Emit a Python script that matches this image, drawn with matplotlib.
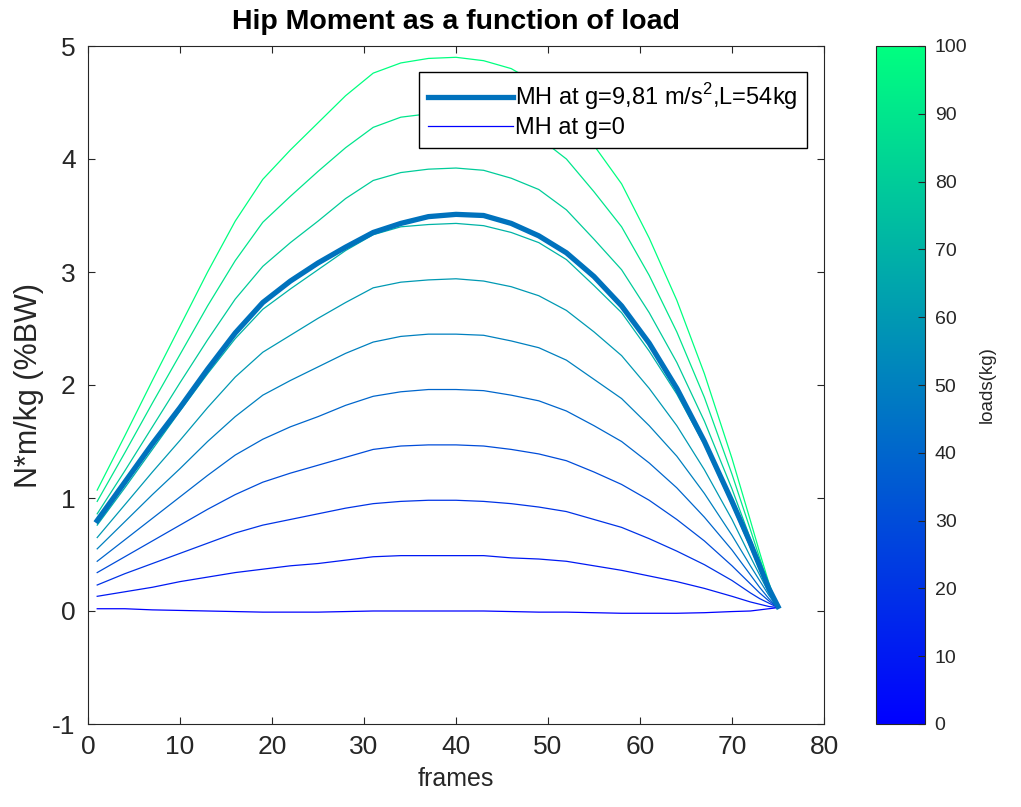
import numpy as np
import matplotlib
matplotlib.use("Agg")
import matplotlib.pyplot as plt
from matplotlib import cm, colors

plt.rcParams['font.family'] = ['Liberation Sans', 'DejaVu Sans']
plt.rcParams['mathtext.fontset'] = 'custom'
plt.rcParams['mathtext.rm'] = 'Liberation Sans'
plt.rcParams['axes.unicode_minus'] = False

# frame numbers where the curves were sampled
frames = [1, 4, 7, 10, 13, 16, 19, 22, 25, 28, 31, 34, 37, 40, 43, 46, 49, 52,
          55, 58, 61, 64, 67, 70, 72, 73, 74, 75]

# hip moment for each load (kg), N*m/kg
loads = [0, 10, 20, 30, 40, 50, 60, 70, 80, 90, 100]
mh_0 = [0.02, 0.02, 0.01, 0.005, 0.0, -0.005, -0.01, -0.01, -0.01, -0.005, 0.0, 0.0, 0.0, 0.0,
        0.0, -0.005, -0.01, -0.01, -0.015, -0.02, -0.02, -0.02, -0.015, -0.005, 0.0, 0.01, 0.02, 0.03]
mh_10 = [0.13, 0.17, 0.21, 0.26, 0.30, 0.34, 0.37, 0.40, 0.42, 0.45, 0.48, 0.49, 0.49, 0.49,
         0.49, 0.47, 0.46, 0.44, 0.40, 0.36, 0.31, 0.26, 0.20, 0.13, 0.08, 0.06, 0.04, 0.03]
mh_20 = [0.23, 0.33, 0.42, 0.51, 0.60, 0.69, 0.76, 0.81, 0.86, 0.91, 0.95, 0.97, 0.98, 0.98,
         0.97, 0.95, 0.92, 0.88, 0.81, 0.74, 0.64, 0.53, 0.41, 0.27, 0.16, 0.11, 0.07, 0.03]
mh_30 = [0.34, 0.48, 0.62, 0.76, 0.90, 1.03, 1.14, 1.22, 1.29, 1.36, 1.43, 1.46, 1.47, 1.47,
         1.46, 1.43, 1.39, 1.33, 1.23, 1.12, 0.98, 0.81, 0.62, 0.40, 0.24, 0.16, 0.09, 0.03]
mh_40 = [0.44, 0.63, 0.82, 1.01, 1.20, 1.38, 1.52, 1.63, 1.72, 1.82, 1.90, 1.94, 1.96, 1.96,
         1.95, 1.91, 1.86, 1.77, 1.64, 1.50, 1.31, 1.09, 0.83, 0.54, 0.32, 0.21, 0.11, 0.03]
mh_50 = [0.55, 0.79, 1.03, 1.26, 1.50, 1.72, 1.91, 2.04, 2.16, 2.28, 2.38, 2.43, 2.45, 2.45,
         2.44, 2.39, 2.33, 2.22, 2.05, 1.88, 1.64, 1.37, 1.04, 0.67, 0.40, 0.27, 0.14, 0.03]
mh_60 = [0.65, 0.94, 1.23, 1.51, 1.80, 2.07, 2.29, 2.44, 2.59, 2.73, 2.86, 2.91, 2.93, 2.94,
         2.92, 2.87, 2.79, 2.66, 2.47, 2.26, 1.97, 1.64, 1.25, 0.81, 0.48, 0.32, 0.16, 0.03]
mh_70 = [0.76, 1.09, 1.43, 1.77, 2.10, 2.41, 2.67, 2.85, 3.02, 3.19, 3.33, 3.40, 3.42, 3.43,
         3.41, 3.35, 3.26, 3.11, 2.88, 2.64, 2.30, 1.92, 1.47, 0.94, 0.56, 0.37, 0.18, 0.03]
mh_80 = [0.86, 1.24, 1.63, 2.02, 2.40, 2.76, 3.05, 3.26, 3.45, 3.65, 3.81, 3.88, 3.91, 3.92,
         3.90, 3.83, 3.73, 3.55, 3.29, 3.02, 2.64, 2.20, 1.68, 1.08, 0.64, 0.42, 0.20, 0.03]
mh_90 = [0.97, 1.40, 1.84, 2.27, 2.70, 3.10, 3.44, 3.67, 3.89, 4.10, 4.28, 4.37, 4.40, 4.41,
         4.38, 4.31, 4.19, 4.00, 3.71, 3.40, 2.97, 2.47, 1.89, 1.21, 0.72, 0.47, 0.23, 0.03]
mh_100 = [1.07, 1.55, 2.04, 2.52, 3.00, 3.45, 3.82, 4.08, 4.32, 4.56, 4.76, 4.85, 4.89, 4.90,
          4.87, 4.80, 4.66, 4.44, 4.12, 3.78, 3.30, 2.75, 2.10, 1.35, 0.80, 0.52, 0.25, 0.03]
mh_curves = [mh_0, mh_10, mh_20, mh_30, mh_40, mh_50, mh_60, mh_70, mh_80, mh_90, mh_100]

# measured subject, g = 9.81, L = 54 kg
mh_54 = [0.80, 1.14, 1.48, 1.80, 2.14, 2.46, 2.73, 2.92, 3.08, 3.22, 3.35, 3.43, 3.49, 3.51,
         3.50, 3.43, 3.32, 3.17, 2.96, 2.70, 2.37, 1.97, 1.50, 0.97, 0.60, 0.40, 0.20, 0.04]

W, H = 1021, 807
fig = plt.figure(figsize=(W / 100, H / 100), dpi=100)
ax = fig.add_axes([88 / W, 1 - 724 / H, 736 / W, 678 / H])
cax = fig.add_axes([876 / W, 1 - 724 / H, 49 / W, 678 / H])

dark = (0.15, 0.15, 0.15)
cmap = cm.winter
norm = colors.Normalize(vmin=0, vmax=100)

h_main, = ax.plot(frames, mh_54, color=(0, 0.447, 0.741), lw=3.8, zorder=3,
                  solid_joinstyle='round')
lines = []
for load, curve in zip(loads, mh_curves):
    ln, = ax.plot(frames, curve, color=cmap(norm(load)), lw=0.9, zorder=2)
    lines.append(ln)

ax.set_xlim(0, 80)
ax.set_ylim(-1, 5)
ax.set_xticks(range(0, 81, 10))
ax.set_yticks(range(-1, 6))
ax.tick_params(direction='in', top=True, right=True, length=5, width=0.8,
               labelsize=19, colors=dark)
ax.tick_params(axis='x', pad=8)
ax.tick_params(axis='y', pad=9)
for sp in ax.spines.values():
    sp.set_color(dark)
    sp.set_linewidth(0.8)

ax.set_xlabel('frames', fontsize=18, color=dark, labelpad=6)
ax.set_ylabel('N*m/kg (%BW)', fontsize=22, color=dark, labelpad=6)
ax.set_title('Hip Moment as a function of load', fontsize=20.5, fontweight='bold', pad=12)

leg = ax.legend([h_main, lines[0]],
                [r'MH at g=9,81 m/s$^2$,L=54kg', 'MH at g=0'],
                loc='upper right', bbox_to_anchor=(0.977, 0.962), borderaxespad=0,
                fontsize=17, handlelength=3.6, handletextpad=0.08,
                fancybox=False, framealpha=1, edgecolor='black',
                borderpad=0.4, labelspacing=0.2)
leg.get_frame().set_linewidth(1.0)

sm = cm.ScalarMappable(norm=norm, cmap=cmap)
cb = fig.colorbar(sm, cax=cax, ticks=range(0, 101, 10))
cb.outline.set_edgecolor(dark)
cb.outline.set_linewidth(0.8)
cax.tick_params(direction='in', length=5, width=0.8, labelsize=14, colors=dark, pad=7)
cb.set_label('loads(kg)', fontsize=13.5, color=dark, labelpad=8)

fig.savefig('out.png', dpi=100, facecolor='white')
